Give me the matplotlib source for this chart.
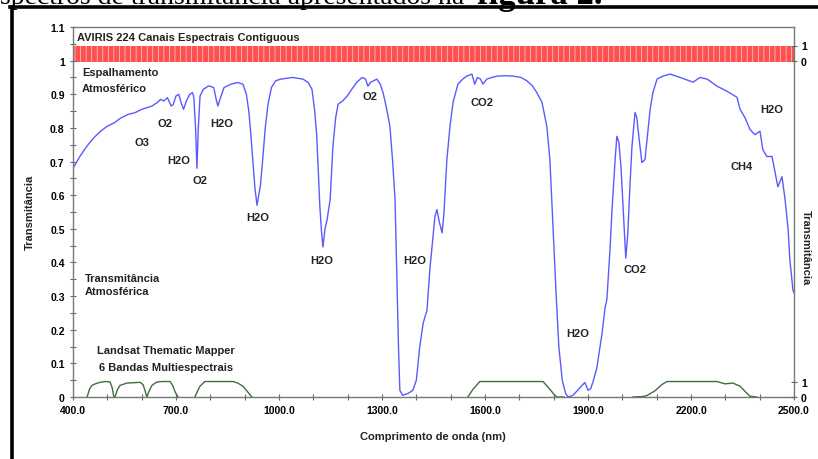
import numpy as np
import matplotlib.pyplot as plt
from matplotlib.lines import Line2D

plt.rcParams['font.family'] = ['Liberation Sans', 'DejaVu Sans']
plt.rcParams['hatch.linewidth'] = 0.5

# atmospheric transmittance (blue curve)
wl = [400, 420, 440, 460, 480, 500, 520, 540, 560, 580, 590, 600, 615, 630, 645, 655, 665, 675,
      686, 692, 700, 708, 715, 722, 730, 740, 748, 752, 757, 761, 765, 770, 780, 795, 810, 817,
      822, 828, 840, 860, 880, 895, 905, 912, 918, 924, 930, 936, 941, 946, 952, 960, 968, 978,
      990, 1005, 1040, 1070, 1085, 1096, 1104, 1110, 1119, 1124, 1128, 1134, 1140, 1149, 1157,
      1165, 1172, 1185, 1198, 1212, 1227, 1242, 1252, 1259, 1266, 1275, 1285, 1295, 1303, 1313,
      1323, 1331, 1338, 1344, 1348, 1352, 1360, 1375, 1390, 1400, 1410, 1420, 1431, 1440, 1448,
      1454, 1460, 1467, 1475, 1480, 1489, 1498, 1507, 1521, 1535, 1547, 1562, 1570, 1578, 1587,
      1594, 1605, 1620, 1635, 1660, 1682, 1705, 1722, 1738, 1751, 1766, 1780, 1789, 1798, 1807,
      1815, 1825, 1835, 1842, 1856, 1870, 1882, 1891, 1900, 1908, 1916, 1926, 1941, 1950, 1955,
      1964, 1970, 1979, 1984, 1990, 1996, 2005, 2010, 2016, 2022, 2028, 2037, 2042, 2048, 2057,
      2066, 2072, 2081, 2089, 2101, 2118, 2139, 2168, 2206, 2226, 2247, 2276, 2305, 2334, 2343,
      2357, 2372, 2386, 2401, 2409, 2421, 2436, 2445, 2453, 2465, 2474, 2483, 2488, 2497, 2500]
trans = [0.68, 0.715, 0.745, 0.77, 0.79, 0.805, 0.815, 0.83, 0.84, 0.845, 0.85, 0.855, 0.86, 0.865,
         0.875, 0.885, 0.88, 0.89, 0.865, 0.87, 0.895, 0.9, 0.875, 0.855, 0.88, 0.9, 0.905, 0.89,
         0.8, 0.68, 0.8, 0.895, 0.915, 0.925, 0.92, 0.885, 0.865, 0.885, 0.92, 0.93, 0.935, 0.93,
         0.9, 0.85, 0.78, 0.7, 0.62, 0.57, 0.6, 0.63, 0.7, 0.8, 0.87, 0.92, 0.94, 0.945, 0.95,
         0.945, 0.935, 0.915, 0.85, 0.775, 0.566, 0.49, 0.446, 0.5, 0.527, 0.587, 0.745, 0.83,
         0.87, 0.88, 0.894, 0.915, 0.936, 0.95, 0.945, 0.924, 0.935, 0.94, 0.945, 0.93, 0.905,
         0.86, 0.805, 0.7, 0.587, 0.327, 0.15, 0.02, 0.005, 0.01, 0.02, 0.05, 0.15, 0.22, 0.258,
         0.387, 0.47, 0.536, 0.557, 0.52, 0.488, 0.54, 0.706, 0.805, 0.876, 0.93, 0.945, 0.954,
         0.96, 0.93, 0.95, 0.945, 0.93, 0.945, 0.95, 0.954, 0.955, 0.954, 0.95, 0.94, 0.925, 0.905,
         0.876, 0.805, 0.706, 0.506, 0.309, 0.15, 0.05, 0.01, 0.0, 0.005, 0.02, 0.034, 0.043, 0.02,
         0.025, 0.05, 0.088, 0.19, 0.267, 0.29, 0.437, 0.557, 0.706, 0.775, 0.757, 0.685, 0.506,
         0.413, 0.488, 0.625, 0.745, 0.846, 0.831, 0.775, 0.697, 0.706, 0.766, 0.855, 0.905, 0.945,
         0.954, 0.96, 0.95, 0.936, 0.95, 0.945, 0.924, 0.909, 0.891, 0.855, 0.831, 0.795, 0.78,
         0.79, 0.736, 0.715, 0.715, 0.667, 0.625, 0.655, 0.587, 0.497, 0.407, 0.318, 0.31]

# Landsat TM relative response (0..1)
tm_bands = {
    'b1': ([441, 448, 455, 465, 479, 495, 508, 514, 519], [0, 0.5, 0.75, 0.85, 0.95, 1.0, 0.97, 0.6, 0]),
    'b2': ([522, 530, 537, 557, 575, 595, 604, 610, 615], [0, 0.5, 0.75, 0.9, 0.92, 0.95, 0.8, 0.4, 0]),
    'b3': ([615, 622, 630, 644, 660, 683, 691, 698, 706], [0, 0.4, 0.75, 0.97, 1.0, 1.0, 0.7, 0.3, 0]),
    'b4': ([755, 763, 770, 784, 866, 880, 895, 908, 921], [0, 0.4, 0.7, 1.0, 1.0, 0.9, 0.7, 0.35, 0]),
    'b5': ([1550, 1565, 1585, 1769, 1785, 1800, 1809, 1830], [0, 0.5, 1, 1, 0.6, 0.2, 0, 0]),
    'b7': ([2031, 2060, 2072, 2095, 2115, 2130, 2276, 2299, 2322, 2343, 2360, 2372, 2392],
           [0, 0.03, 0.1, 0.4, 0.8, 1, 1, 0.85, 0.9, 0.7, 0.3, 0.05, 0]),
}

# absorption labels
gas_labels = ['O3', 'O2', 'H2O', 'O2', 'H2O', 'H2O', 'H2O', 'O2', 'H2O', 'CO2', 'H2O', 'CO2', 'CH4', 'H2O']
gas_x = [601, 668, 709, 770, 834, 939, 1125, 1265, 1396, 1591, 1871, 2037, 2348, 2436]
gas_y = [0.757, 0.816, 0.706, 0.646, 0.816, 0.536, 0.407, 0.894, 0.407, 0.876, 0.19, 0.38, 0.688, 0.855]

xticks = [400, 700, 1000, 1300, 1600, 1900, 2200, 2500]
yticks = [0, 0.1, 0.2, 0.3, 0.4, 0.5, 0.6, 0.7, 0.8, 0.9, 1.0, 1.1]
ytick_labels = ['0', '0.1', '0.2', '0.3', '0.4', '0.5', '0.6', '0.7', '0.8', '0.9', '1', '1.1']

tm_scale = 0.046
band_lo, band_hi = 0.995, 1.045

fig = plt.figure(figsize=(8.18, 4.6), dpi=100)
ax = fig.add_axes([73 / 818, 1 - 398 / 460, 721 / 818, 370 / 460])

ax.plot(wl, trans, color='#5a5aff', lw=1.0)
for name, (bx, by) in tm_bands.items():
    ax.plot(bx, np.array(by) * tm_scale, color='#3f6f3f', lw=1.0)

# AVIRIS channel band
ax.fill_between([400, 2500], band_lo, band_hi, facecolor='#ff5050', edgecolor='#ffd0d0',
                hatch='|||', linewidth=0)

ax.set_xlim(400, 2500)
ax.set_ylim(0, 1.1)
ax.set_xticks(xticks)
ax.set_xticklabels([f'{v:.1f}' for v in xticks])
ax.set_xticks(np.arange(400, 2501, 100), minor=True)
ax.set_yticks(yticks)
ax.set_yticklabels(ytick_labels)
ax.set_yticks(np.arange(0, 1.101, 0.05), minor=True)
ax.tick_params(which='both', direction='inout', length=4, width=0.8, color='#666666',
               labelsize=7.5, pad=4)
for lab in ax.get_xticklabels() + ax.get_yticklabels():
    lab.set_fontweight('bold')
for s in ax.spines.values():
    s.set_color('#777777')
    s.set_linewidth(1.0)

ax2 = ax.twinx()
ax2.set_ylim(0, 1.1)
ax2.set_yticks([0, 0.045, 1.0, 1.045])
ax2.set_yticklabels(['0', '1', '0', '1'])
ax2.tick_params(direction='inout', length=4, width=0.8, color='#666666', labelsize=7.5, pad=3)
for lab in ax2.get_yticklabels():
    lab.set_fontweight('bold')
for s in ax2.spines.values():
    s.set_visible(False)

tk = dict(fontsize=8, fontweight='bold', color='#222222')
ax.text(412, 1.07, 'AVIRIS 224 Canais Espectrais Contiguous', va='center', ha='left', **tk)
ax.text(426, 0.966, 'Espalhamento', va='center', ha='left', **tk)
ax.text(426, 0.918, 'Atmosférico', va='center', ha='left', **tk)
ax.text(435, 0.354, 'Transmitância', va='center', ha='left', **tk)
ax.text(435, 0.315, 'Atmosférica', va='center', ha='left', **tk)
ax.text(671, 0.139, 'Landsat Thematic Mapper', va='center', ha='center', **tk)
ax.text(671, 0.088, '6 Bandas Multiespectrais', va='center', ha='center', **tk)
for lab, x, y in zip(gas_labels, gas_x, gas_y):
    ax.text(x, y, lab, va='center', ha='center', **tk)

fig.text(30 / 818, 1 - 212 / 460, 'Transmitância', rotation=90, va='center', ha='center', **tk)
fig.text(806 / 818, 1 - 248 / 460, 'Transmitância', rotation=270, va='center', ha='center', **tk)
fig.text(433 / 818, 1 - 437 / 460, 'Comprimento de onda (nm)', va='center', ha='center', **tk)

# cropped text line at the top of the page
fig.text(0, 1 - 4 / 460, 'spectros de transmitância apresentados na ', family='Liberation Serif',
         fontsize=20, va='baseline', ha='left')
fig.text(477 / 818, 1 - 4 / 460, 'figura 2.', family='Liberation Serif', fontsize=25,
         fontweight='bold', va='baseline', ha='left')

# page frame lines
fig.add_artist(Line2D([10 / 818, 1], [1 - 7.5 / 460] * 2, color='black', lw=2.6))
fig.add_artist(Line2D([12 / 818] * 2, [0, 1 - 7.5 / 460], color='black', lw=2.6))

fig.savefig('out.png', dpi=100)
